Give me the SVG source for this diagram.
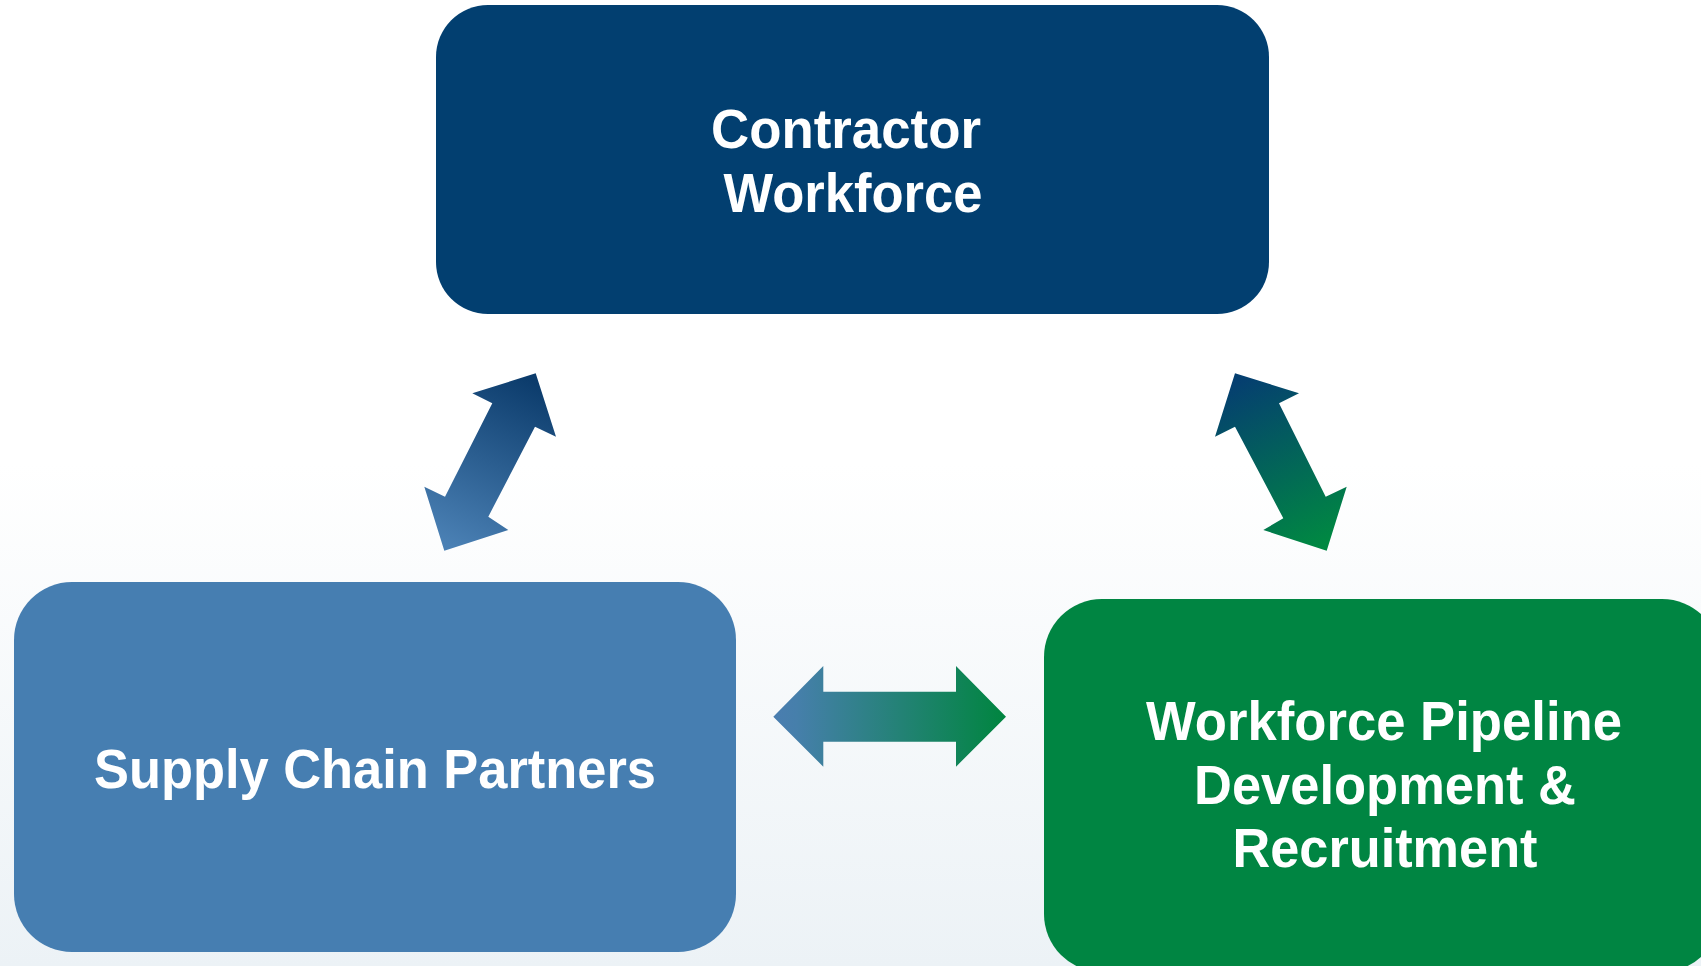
<svg xmlns="http://www.w3.org/2000/svg" width="1701" height="966" viewBox="0 0 1701 966">
<defs>
<linearGradient id="bg" x1="0" y1="0" x2="0" y2="1">
<stop offset="0" stop-color="#ffffff"/>
<stop offset="0.48" stop-color="#ffffff"/>
<stop offset="1" stop-color="#ecf2f6"/>
</linearGradient>
<linearGradient id="gL" gradientUnits="userSpaceOnUse" x1="530" y1="380" x2="450" y2="545">
<stop offset="0" stop-color="#0c3c6c"/>
<stop offset="1" stop-color="#4a80b4"/>
</linearGradient>
<linearGradient id="gR" gradientUnits="userSpaceOnUse" x1="1240" y1="380" x2="1320" y2="545">
<stop offset="0" stop-color="#053f70"/>
<stop offset="1" stop-color="#008842"/>
</linearGradient>
<linearGradient id="gH" gradientUnits="userSpaceOnUse" x1="773" y1="0" x2="1006" y2="0">
<stop offset="0" stop-color="#4a7db0"/>
<stop offset="0.1" stop-color="#467fab"/>
<stop offset="1" stop-color="#00853f"/>
</linearGradient>
<style>
.lbl{font-family:"Liberation Sans",Arial,sans-serif;font-weight:bold;font-size:55px;fill:#ffffff;text-anchor:middle}
</style>
</defs>
<rect x="0" y="0" width="1701" height="966" fill="url(#bg)"/>
<g id="node-contractor">
<rect x="436" y="5" width="833" height="309" rx="52" ry="52" fill="#023f70"/>
<text class="lbl" x="846" y="148" textLength="270" lengthAdjust="spacingAndGlyphs">Contractor</text>
<text class="lbl" x="853" y="212" textLength="259" lengthAdjust="spacingAndGlyphs">Workforce</text>
</g>
<g id="node-supply">
<rect x="14" y="582" width="722" height="370" rx="58" ry="58" fill="#467eb1"/>
<text class="lbl" x="375" y="788" textLength="562" lengthAdjust="spacingAndGlyphs">Supply Chain Partners</text>
</g>
<g id="node-pipeline">
<rect x="1044" y="599" width="676" height="373" rx="58" ry="58" fill="#008542"/>
<text class="lbl" x="1384" y="740" textLength="476" lengthAdjust="spacingAndGlyphs">Workforce Pipeline</text>
<text class="lbl" x="1385" y="804" textLength="382" lengthAdjust="spacingAndGlyphs">Development &amp;</text>
<text class="lbl" x="1385" y="867" textLength="305" lengthAdjust="spacingAndGlyphs">Recruitment</text>
</g>
<g id="connectors">
<polygon fill="url(#gL)" points="535.7,373.3 556,436.7 535,426.7 488.3,516.7 508.3,530 444.3,550.7 424.3,486.7 445,496.7 492.3,403.3 472.3,393.3"/>
<polygon fill="url(#gR)" points="1235,373.3 1299,393.3 1279,403.3 1325.7,496.7 1346.7,486.7 1326.7,550.7 1263.3,530 1283.3,518.3 1235,426.7 1215,436.7"/>
<polygon fill="url(#gH)" points="773.3,716.7 823.3,666 823.3,691.7 956,691.7 956,666 1006,716.7 956,766.7 956,741.7 823.3,741.7 823.3,766.7"/>
</g>
</svg>
